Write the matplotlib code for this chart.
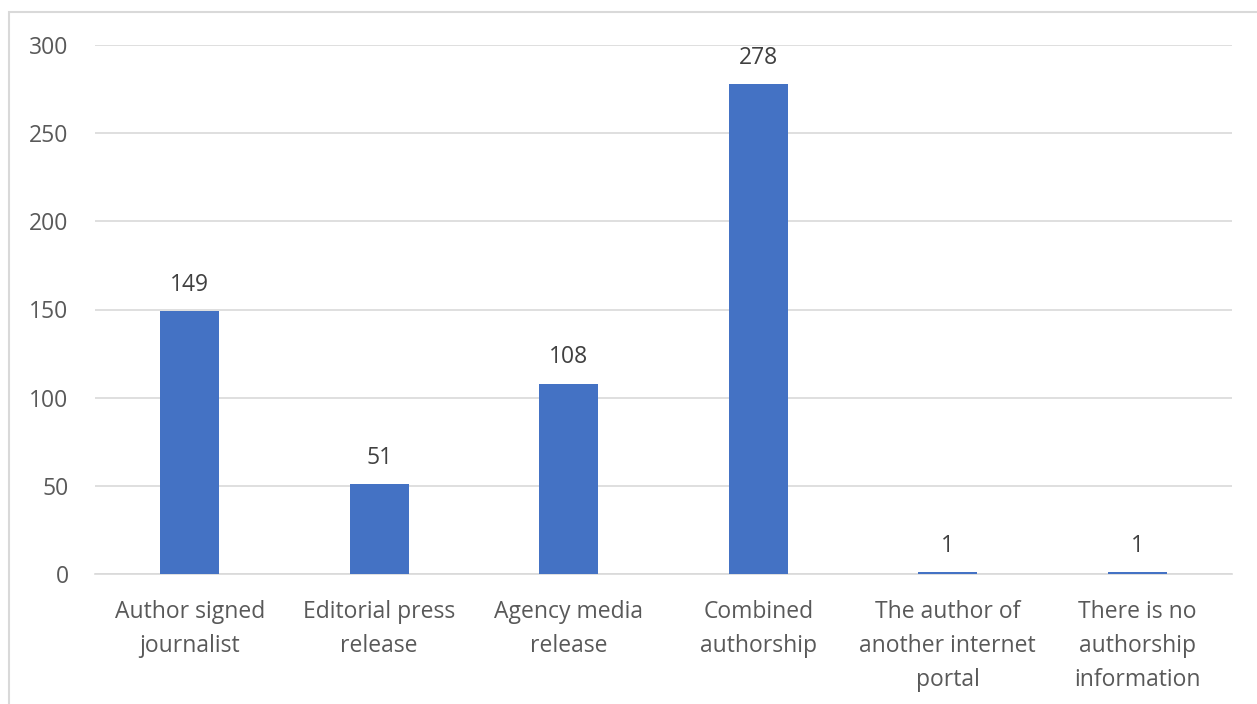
import matplotlib.pyplot as plt
from matplotlib.patches import Rectangle

categories = ["Author signed\njournalist", "Editorial press\nrelease", "Agency media\nrelease",
              "Combined\nauthorship", "The author of\nanother internet\nportal",
              "There is no\nauthorship\ninformation"]
values = [149, 51, 108, 278, 1, 1]

text_color = "#595959"
plt.rcParams['font.family'] = ['Open Sans', 'DejaVu Sans']

fig = plt.figure(figsize=(12.57, 7.04), dpi=100)
ax = fig.add_axes([95 / 1257, 130 / 704, 1137 / 1257, 529 / 704])

# chart border (only left and top visible in the crop)
fig.patches.append(Rectangle((9 / 1257, -0.1), 1.2, (704 - 12) / 704 + 0.1,
                             transform=fig.transFigure, fill=False,
                             edgecolor="#D9D9D9", linewidth=1.5))

x = range(len(categories))
bars = ax.bar(x, values, width=0.31, color="#4472C4", zorder=3)
for b, v in zip(bars, values):
    ax.text(b.get_x() + b.get_width() / 2, v + 8, str(v), ha="center", va="bottom",
            fontsize=16.5, color="#404040")

ax.set_xlim(-0.5, len(categories) - 0.5)
ax.set_ylim(0, 300)
ax.set_yticks(range(0, 301, 50))
ax.yaxis.grid(True, color="#D9D9D9", linewidth=1.2, zorder=0)
ax.set_xticks(list(x))
ax.set_xticklabels(categories, fontsize=16.5, color=text_color, linespacing=1.55, va="top")
ax.tick_params(axis="y", labelsize=16.5, labelcolor=text_color, length=0, pad=19)
ax.tick_params(axis="x", length=0, pad=19)
for s in ["top", "right", "left"]:
    ax.spines[s].set_visible(False)
ax.spines["bottom"].set_color("#D9D9D9")
ax.spines["bottom"].set_linewidth(1.2)

fig.savefig("out.png", dpi=100)
